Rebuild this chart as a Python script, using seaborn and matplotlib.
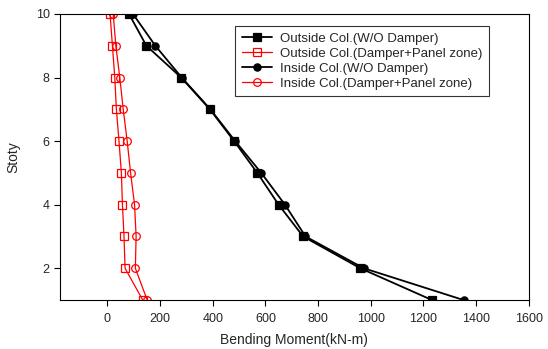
import pandas as pd
import matplotlib
matplotlib.use("Agg")
import matplotlib.pyplot as plt
import seaborn as sns

# ====================
# DATA
# ====================
stories = [10, 9, 8, 7, 6, 5, 4, 3, 2, 1]

outside_wo = [82, 148, 280, 389, 481, 569, 650, 743, 960, 1232]
outside_dp = [10, 19, 28, 34, 44, 53, 57, 63, 67, 134]
inside_wo = [97, 182, 282, 391, 485, 584, 674, 752, 973, 1352]
inside_dp = [22, 32, 47, 60, 75, 88, 103, 109, 106, 151]

labels = [
    "Outside Col.(W/O Damper)",
    "Outside Col.(Damper+Panel zone)",
    "Inside Col.(W/O Damper)",
    "Inside Col.(Damper+Panel zone)",
]
series = [outside_wo, outside_dp, inside_wo, inside_dp]
colors = ["black", "red", "black", "red"]
markers = ["s", "s", "o", "o"]
filled = [True, False, True, False]

# ====================
# PLOT
# ====================
sns.set_style("ticks")
plt.rcParams["font.family"] = ["Liberation Sans", "DejaVu Sans"]

fig = plt.figure(figsize=(5.48, 3.49), dpi=100)
ax = fig.add_axes([0.1095, 0.1404, 0.8555, 0.8196])

for vals, lab, c, m, f in zip(series, labels, colors, markers, filled):
    df = pd.DataFrame({"Moment": vals, "Story": stories})
    sns.lineplot(
        data=df, x="Moment", y="Story", sort=False, ax=ax, label=lab,
        color=c, marker=m, markersize=5.2 if f else 5.5,
        markerfacecolor=c if f else "none", markeredgecolor=c,
        markeredgewidth=0.9, linewidth=1.3 if c == "black" else 0.9,
    )

ax.set_xlim(-180, 1590)
ax.set_ylim(1, 10)
ax.set_xticks(range(0, 1601, 200))
ax.set_yticks([2, 4, 6, 8, 10])
ax.tick_params(labelsize=9, length=4, width=0.8, color="black")
ax.tick_params(axis="x", pad=5)
for s in ax.spines.values():
    s.set_visible(True)
    s.set_color("black")
    s.set_linewidth(0.8)

ax.set_xlabel("Bending Moment(kN-m)", fontsize=10, labelpad=6)
ax.set_ylabel("Stoty", fontsize=10, labelpad=11)

leg = ax.legend(loc="upper left", bbox_to_anchor=(0.36, 0.98), fontsize=9.5,
                frameon=True, fancybox=False, edgecolor="black",
                handlelength=2.3, borderpad=0.5, labelspacing=0.2,
                handletextpad=0.6)
leg.get_frame().set_linewidth(0.8)

plt.savefig("out.png", dpi=100)
plt.close()
